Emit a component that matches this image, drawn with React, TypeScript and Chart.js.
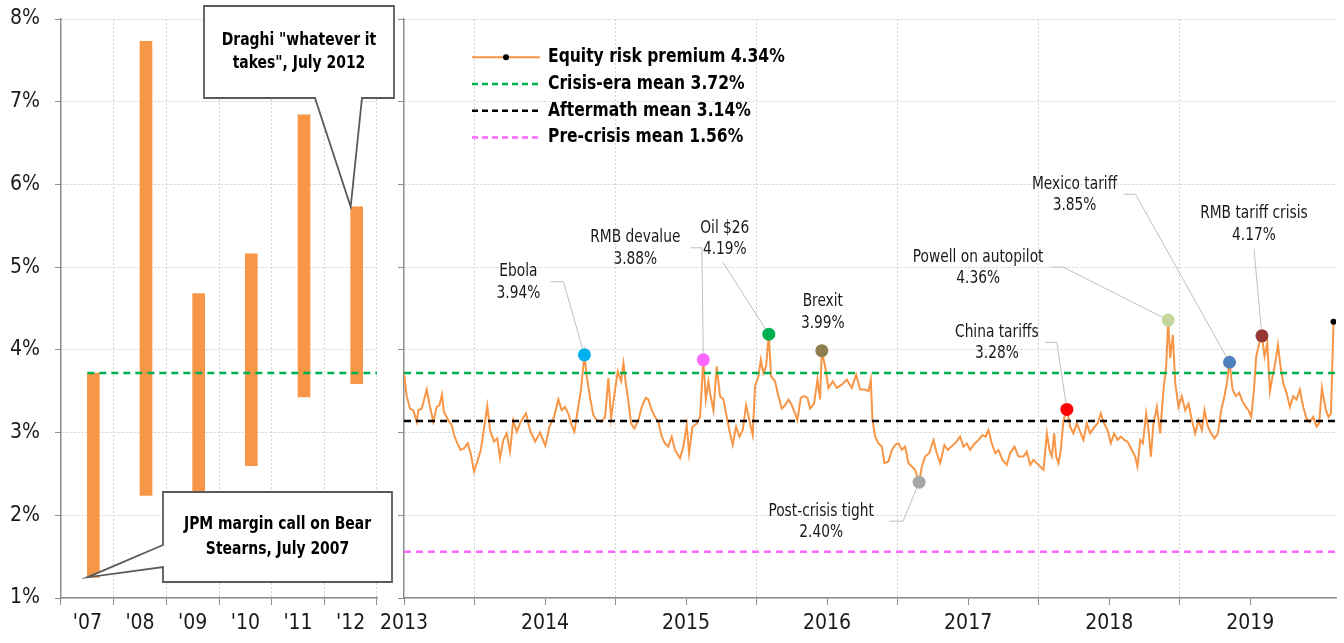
import React, { useEffect, useRef } from 'react';
import { Chart, registerables } from 'chart.js';

Chart.register(...registerables);

const FONT = '"DejaVu Sans Condensed", "Liberation Sans Narrow", "Arial Narrow", sans-serif';

// ---------- Left panel: crisis-era ranges ----------
const crisisYears = ["'07", "'08", "'09", "'10", "'11", "'12"];
const crisisLow = [1.25, 2.24, 2.2, 2.6, 3.43, 3.59];
const crisisHigh = [3.72, 7.73, 4.68, 5.16, 6.84, 5.73];

// ---------- Means ----------
const meanNames = ['Crisis-era mean', 'Aftermath mean', 'Pre-crisis mean'];
const meanValues = [3.72, 3.14, 1.56];
const meanColors = ['#00B050', '#000000', '#FF66FF'];

// ---------- Right panel: equity risk premium (months since Jan 2013) ----------
const startYear = 2013;
const erpName = 'Equity risk premium';
const erpLatest = 4.34;
const erpMonths = [
  0.0, 0.23, 0.51, 0.79, 1.08, 1.22, 1.51, 1.93, 2.21, 2.5, 2.78, 3.01, 3.23, 3.4, 3.77, 4.06, 4.26, 4.54, 4.82, 5.11,
  5.42, 5.67, 5.96, 6.24, 6.53, 6.81, 7.09, 7.32, 7.66, 7.94, 8.17, 8.45, 8.74, 9.02, 9.3, 9.59, 9.93, 10.38, 10.72, 11.15,
  11.57, 12.03, 12.37, 12.77, 13.13, 13.42, 13.7, 13.98, 14.27, 14.5, 14.78, 15.06, 15.35, 15.55, 15.83, 16.11, 16.4, 16.83, 17.11, 17.39,
  17.62, 17.96, 18.19, 18.47, 18.67, 18.87, 19.09, 19.32, 19.6, 19.94, 20.23, 20.57, 20.79, 21.08, 21.36, 21.64, 21.93, 22.21, 22.49, 22.78,
  23.06, 23.49, 23.77, 24.06, 24.26, 24.54, 24.91, 25.19, 25.47, 25.68, 25.9, 26.04, 26.33, 26.61, 26.89, 27.18, 27.46, 27.74, 27.97, 28.26,
  28.54, 28.82, 29.11, 29.39, 29.67, 29.87, 30.16, 30.36, 30.58, 30.81, 31.04, 31.23, 31.57, 31.86, 32.14, 32.43, 32.71, 33.0, 33.28, 33.47,
  33.76, 34.04, 34.33, 34.55, 34.89, 35.18, 35.4, 35.55, 35.83, 36.11, 36.48, 36.82, 37.25, 37.68, 38.1, 38.47, 38.81, 39.23, 39.52, 39.72,
  39.86, 40.09, 40.37, 40.66, 40.88, 41.22, 41.51, 41.79, 42.07, 42.36, 42.64, 42.92, 43.21, 43.49, 43.83, 44.06, 44.34, 44.68, 45.05, 45.33,
  45.62, 45.98, 46.27, 46.55, 46.89, 47.32, 47.6, 47.89, 48.17, 48.45, 48.88, 49.22, 49.5, 49.73, 50.01, 50.3, 50.58, 50.92, 51.29, 51.57,
  51.94, 52.28, 52.71, 52.99, 53.28, 53.56, 53.84, 54.13, 54.41, 54.7, 54.92, 55.12, 55.32, 55.49, 55.69, 55.89, 56.11, 56.4, 56.68, 56.96,
  57.25, 57.53, 57.81, 58.1, 58.38, 58.66, 59.01, 59.29, 59.57, 59.86, 60.14, 60.43, 60.71, 60.99, 61.28, 61.56, 61.93, 62.21, 62.41, 62.64,
  62.87, 63.15, 63.35, 63.55, 63.77, 64.06, 64.34, 64.62, 64.85, 65.02, 65.19, 65.42, 65.62, 65.9, 66.18, 66.47, 66.75, 67.04, 67.32, 67.6,
  67.89, 68.11, 68.4, 68.68, 68.96, 69.25, 69.53, 69.81, 70.02, 70.24, 70.5, 70.78, 71.06, 71.34, 71.63, 71.85, 72.09, 72.31, 72.51, 72.77,
  73.0, 73.22, 73.45, 73.68, 73.9, 74.13, 74.36, 74.58, 74.81, 75.09, 75.38, 75.66, 75.94, 76.23, 76.51, 76.79, 77.08, 77.36, 77.64, 77.87,
  78.1, 78.27, 78.44, 78.66, 78.87, 79.0, 79.09,
];
const erpValues = [
  3.72, 3.44, 3.29, 3.27, 3.13, 3.27, 3.29, 3.52, 3.31, 3.13, 3.31, 3.33, 3.46, 3.25, 3.15, 3.09, 2.97, 2.87, 2.79, 2.81,
  2.87, 2.75, 2.53, 2.65, 2.79, 3.05, 3.32, 3.03, 2.89, 2.93, 2.69, 2.91, 2.99, 2.77, 3.15, 3.01, 3.13, 3.23, 3.03, 2.89,
  3.0, 2.84, 3.07, 3.19, 3.4, 3.27, 3.31, 3.23, 3.09, 3.01, 3.27, 3.52, 3.94, 3.68, 3.42, 3.21, 3.15, 3.13, 3.19, 3.66,
  3.17, 3.52, 3.74, 3.62, 3.84, 3.6, 3.38, 3.11, 3.05, 3.15, 3.31, 3.42, 3.4, 3.27, 3.19, 3.13, 2.95, 2.87, 2.83, 2.95,
  2.79, 2.69, 2.83, 3.09, 2.75, 3.07, 3.11, 3.19, 3.88, 3.4, 3.62, 3.48, 3.27, 3.8, 3.44, 3.4, 3.19, 2.99, 2.85, 3.07,
  2.95, 3.03, 3.33, 3.15, 2.97, 3.56, 3.68, 3.88, 3.72, 3.8, 4.19, 3.68, 3.62, 3.44, 3.29, 3.33, 3.4, 3.33, 3.23, 3.15,
  3.42, 3.44, 3.42, 3.29, 3.35, 3.64, 3.4, 3.99, 3.8, 3.54, 3.62, 3.54, 3.58, 3.64, 3.54, 3.7, 3.52, 3.52, 3.5, 3.64,
  3.15, 2.95, 2.87, 2.83, 2.63, 2.65, 2.79, 2.85, 2.87, 2.79, 2.83, 2.63, 2.59, 2.55, 2.4, 2.59, 2.71, 2.75, 2.91, 2.75,
  2.63, 2.85, 2.79, 2.83, 2.87, 2.95, 2.83, 2.87, 2.79, 2.85, 2.91, 2.97, 2.95, 3.03, 2.87, 2.75, 2.79, 2.67, 2.61, 2.75,
  2.83, 2.71, 2.71, 2.77, 2.61, 2.67, 2.63, 2.59, 2.55, 2.99, 2.79, 2.71, 2.99, 2.71, 2.63, 2.79, 3.15, 3.28, 3.07, 2.99,
  3.11, 3.01, 2.91, 3.11, 2.99, 3.05, 3.11, 3.23, 3.11, 3.03, 2.87, 2.99, 2.91, 2.95, 2.91, 2.89, 2.79, 2.71, 2.59, 2.91,
  2.87, 3.23, 3.03, 2.71, 3.11, 3.31, 2.99, 3.52, 3.8, 4.36, 3.9, 4.18, 3.6, 3.31, 3.44, 3.27, 3.35, 3.15, 2.99, 3.15,
  3.03, 3.27, 3.07, 2.99, 2.93, 2.99, 3.27, 3.44, 3.6, 3.85, 3.52, 3.44, 3.48, 3.38, 3.31, 3.27, 3.19, 3.5, 3.92, 4.08,
  4.17, 3.92, 4.08, 3.5, 3.68, 3.84, 4.06, 3.8, 3.6, 3.48, 3.31, 3.44, 3.4, 3.52, 3.31, 3.17, 3.13, 3.19, 3.07, 3.11,
  3.54, 3.4, 3.27, 3.19, 3.23, 3.88, 4.34,
];
const xMaxMonths = 79.3;

// ---------- Events ----------
const eventNames = ['Ebola', 'RMB devalue', 'Oil $26', 'Brexit', 'Post-crisis tight', 'China tariffs', 'Powell on autopilot', 'Mexico tariff', 'RMB tariff crisis'];
const eventMonths = [15.35, 25.47, 31.04, 35.55, 43.83, 56.4, 65.02, 70.24, 73.0];
const eventValues = [3.94, 3.88, 4.19, 3.99, 2.4, 3.28, 4.36, 3.85, 4.17];
const eventColors = ['#00B0F0', '#FF66FF', '#00B050', '#8C7E4E', '#A6A6A6', '#FF0000', '#C3D69B', '#4F81BD', '#953735'];

// label layout, offsets in px relative to the marker
const eventLayout = [
  { dx: -66, dy: -83, leader: [[-34, -73], [-21, -73]] },
  { dx: -68, dy: -122, leader: [[-13, -112], [-1.5, -112]] },
  { dx: -44, dy: -106, leader: [[-46, -72]] },
  { dx: 1, dy: -49, leader: [] },
  { dx: -98, dy: 29, leader: [[-30, 39], [-16, 39]] },
  { dx: -70, dy: -77, leader: [[-22, -67], [-10, -67]] },
  { dx: -190, dy: -63, leader: [[-117, -53], [-105, -53]] },
  { dx: -155, dy: -178, leader: [[-106, -168], [-94, -168]] },
  { dx: -8, dy: -122, leader: [[-8, -87]] },
];

// ---------- Callouts (left panel) ----------
const callouts = [
  { lines: ['Draghi "whatever it', 'takes", July 2012'], bar: 5, end: 'high' },
  { lines: ['JPM margin call on Bear', 'Stearns, July 2007'], bar: 0, end: 'low' },
];
const calloutLayout = [
  { box: [204, 6, 394, 98], before: [[204, 6], [394, 6], [394, 98], [362, 98]], after: [[315, 98], [204, 98]], text: [40, 63] },
  { box: [163, 492, 392, 582], before: [[163, 492], [392, 492], [392, 582], [163, 582], [163, 567]], after: [[163, 545]], text: [524, 549] },
];

const ORANGE = '#F79646';
const AXIS = '#8C8C8C';
const GRID = '#D0D0D0';
const TEXT = '#1A1A1A';

Chart.defaults.font.family = FONT;
Chart.defaults.color = TEXT;

function squeezeText(ctx: CanvasRenderingContext2D, text: string, x: number, y: number, sx: number, align: CanvasTextAlign) {
  ctx.save();
  ctx.translate(x, y);
  ctx.scale(sx, 1);
  ctx.textAlign = align;
  ctx.textBaseline = 'middle';
  ctx.fillText(text, 0, 0);
  ctx.restore();
}

const noPadX = (h: number) => (s: any) => {
  s.height = h;
  s.paddingLeft = 0;
  s.paddingRight = 0;
};
const noPadY = (w: number) => (s: any) => {
  s.width = w;
  s.paddingTop = 0;
  s.paddingBottom = 0;
};

export default function App() {
  const leftRef = useRef<HTMLCanvasElement>(null);
  const rightRef = useRef<HTMLCanvasElement>(null);

  useEffect(() => {
    const calloutPlugin = {
      id: 'callouts',
      afterDraw(chart: any) {
        const ctx = chart.ctx;
        const xs = chart.scales.x;
        const ys = chart.scales.y;
        callouts.forEach((c, i) => {
          const lay = calloutLayout[i];
          const tipX = xs.getPixelForValue(c.bar);
          const tipY = ys.getPixelForValue(c.end === 'high' ? crisisHigh[c.bar] : crisisLow[c.bar]);
          const pts = [...lay.before, [tipX, tipY], ...lay.after];
          ctx.save();
          ctx.beginPath();
          pts.forEach((p, k) => (k === 0 ? ctx.moveTo(p[0], p[1]) : ctx.lineTo(p[0], p[1])));
          ctx.closePath();
          ctx.fillStyle = '#FFFFFF';
          ctx.fill();
          ctx.strokeStyle = '#5A5A5A';
          ctx.lineWidth = 1.8;
          ctx.stroke();
          ctx.fillStyle = '#000';
          ctx.font = `bold 18px ${FONT}`;
          const cx = (lay.box[0] + lay.box[2]) / 2;
          c.lines.forEach((t, k) => squeezeText(ctx, t, cx, lay.text[k], 0.86, 'center'));
          ctx.restore();
        });
      },
    };

    const annotPlugin = {
      id: 'annots',
      afterDraw(chart: any) {
        const ctx = chart.ctx;
        const xs = chart.scales.x;
        const ys = chart.scales.y;
        const area = chart.chartArea;
        ctx.save();
        eventNames.forEach((name, i) => {
          const mx = xs.getPixelForValue(eventMonths[i]);
          const my = ys.getPixelForValue(eventValues[i]);
          const lay = eventLayout[i];
          if (lay.leader.length) {
            const pts = lay.leader.map((p) => [mx + p[0], my + p[1]]);
            const last = pts[pts.length - 1];
            const ddx = mx - last[0];
            const ddy = my - last[1];
            const len = Math.hypot(ddx, ddy);
            const r = 6.5;
            pts.push([mx - (ddx / len) * r, my - (ddy / len) * r]);
            ctx.beginPath();
            pts.forEach((p, k) => (k === 0 ? ctx.moveTo(p[0], p[1]) : ctx.lineTo(p[0], p[1])));
            ctx.strokeStyle = '#BFBFBF';
            ctx.lineWidth = 1;
            ctx.setLineDash([]);
            ctx.stroke();
          }
          ctx.fillStyle = TEXT;
          ctx.font = `17px ${FONT}`;
          squeezeText(ctx, name, mx + lay.dx, my + lay.dy, 0.9, 'center');
          squeezeText(ctx, eventValues[i].toFixed(2) + '%', mx + lay.dx, my + lay.dy + 21.5, 0.9, 'center');
        });
        // legend
        const L = area.left;
        const rows = [
          { label: `${erpName} ${erpLatest.toFixed(2)}%`, color: ORANGE, dash: [] as number[], dot: true },
          ...meanNames.map((n, i) => ({ label: `${n} ${meanValues[i].toFixed(2)}%`, color: meanColors[i], dash: [6, 4], dot: false })),
        ];
        rows.forEach((r, i) => {
          const y = area.top + 38.3 + i * 26.7;
          ctx.beginPath();
          ctx.setLineDash(r.dash);
          ctx.strokeStyle = r.color;
          ctx.lineWidth = r.dot ? 2 : 2.5;
          ctx.moveTo(L + 68, y);
          ctx.lineTo(L + 136, y);
          ctx.stroke();
          ctx.setLineDash([]);
          if (r.dot) {
            ctx.beginPath();
            ctx.fillStyle = '#000';
            ctx.arc(L + 102, y, 3, 0, Math.PI * 2);
            ctx.fill();
          }
          ctx.fillStyle = '#000';
          ctx.font = `bold 19px ${FONT}`;
          squeezeText(ctx, r.label, L + 144, y, 0.91, 'left');
        });
        ctx.restore();
      },
    };

    const left = new Chart(leftRef.current as HTMLCanvasElement, {
      type: 'bar',
      data: {
        labels: crisisYears,
        datasets: [
          {
            type: 'line',
            xAxisID: 'x2',
            data: [
              { x: 0.5, y: meanValues[0] },
              { x: 6, y: meanValues[0] },
            ],
            borderColor: meanColors[0],
            borderWidth: 2.5,
            borderDash: [7, 5],
            pointRadius: 0,
            order: 0,
          } as any,
          {
            type: 'bar',
            data: crisisYears.map((_, i) => [crisisLow[i], crisisHigh[i]]),
            backgroundColor: ORANGE,
            borderWidth: 0,
            barThickness: 12,
            order: 1,
          } as any,
        ],
      },
      options: {
        responsive: false,
        animation: false,
        devicePixelRatio: 1,
        layout: { padding: { top: 19, right: 23, bottom: 0, left: 0 } },
        plugins: { legend: { display: false }, tooltip: { enabled: false } },
        scales: {
          x: {
            type: 'category',
            offset: true,
            grid: { offset: true, color: GRID, tickColor: AXIS, tickLength: 7, lineWidth: 1 },
            border: { color: AXIS, width: 1.5, dash: [2, 2] },
            ticks: { font: { size: 21 }, color: TEXT, padding: 6, maxRotation: 0 },
            afterFit: noPadX(45),
          },
          x2: { type: 'linear', display: false, offset: false, min: 0, max: 6, grid: { offset: false } },
          y: {
            min: 1,
            max: 8,
            ticks: { stepSize: 1, callback: (v: any) => `${v}%`, font: { size: 21 }, color: TEXT, padding: 15 },
            grid: { color: GRID, tickColor: AXIS, tickLength: 6 },
            border: { color: AXIS, width: 1.5, dash: [2, 2] },
            afterFit: noPadY(61),
          },
        },
      } as any,
      plugins: [calloutPlugin],
    });

    const right = new Chart(rightRef.current as HTMLCanvasElement, {
      type: 'line',
      data: {
        datasets: [
          {
            data: eventMonths.map((m, i) => ({ x: m, y: eventValues[i] })),
            showLine: false,
            pointRadius: 6.5,
            pointBackgroundColor: eventColors,
            pointBorderWidth: 0,
            order: 0,
          } as any,
          {
            data: [{ x: erpMonths[erpMonths.length - 1], y: erpLatest }],
            showLine: false,
            pointRadius: 3,
            pointBackgroundColor: '#000',
            pointBorderWidth: 0,
            order: 0,
          } as any,
          ...meanValues.map((v, i) => ({
            data: [
              { x: 0, y: v },
              { x: xMaxMonths, y: v },
            ],
            borderColor: meanColors[i],
            borderWidth: 2.5,
            borderDash: [7, 5],
            pointRadius: 0,
            order: 1,
          })),
          {
            data: erpMonths.map((m, i) => ({ x: m, y: erpValues[i] })),
            borderColor: ORANGE,
            borderWidth: 2,
            pointRadius: 0,
            tension: 0,
            order: 2,
          } as any,
        ],
      },
      options: {
        responsive: false,
        animation: false,
        devicePixelRatio: 1,
        layout: { padding: { top: 19, right: 8, bottom: 0, left: 0 } },
        plugins: { legend: { display: false }, tooltip: { enabled: false } },
        scales: {
          x: {
            type: 'linear',
            min: 0,
            max: xMaxMonths,
            afterBuildTicks: (s: any) => {
              s.ticks = s.ticks.filter((t: any) => Math.abs(t.value % 6) < 1e-6);
            },
            ticks: {
              stepSize: 6,
              autoSkip: false,
              maxRotation: 0,
              font: { size: 21 },
              color: TEXT,
              padding: 6,
              callback: (v: any) => (v % 12 === 0 ? String(startYear + v / 12) : ''),
            },
            grid: {
              color: (c: any) => (c.tick && c.tick.value % 12 === 6 ? GRID : 'rgba(0,0,0,0)'),
              tickColor: AXIS,
              tickLength: 7,
            },
            border: { color: AXIS, width: 1.5, dash: [2, 2] },
            afterFit: noPadX(45),
          },
          y: {
            min: 1,
            max: 8,
            ticks: { stepSize: 1, callback: () => '' },
            grid: { color: GRID, tickColor: AXIS, tickLength: 6 },
            border: { color: AXIS, width: 1.5, dash: [2, 2] },
            afterFit: noPadY(24),
          },
        },
      } as any,
      plugins: [annotPlugin],
    });

    return () => {
      left.destroy();
      right.destroy();
    };
  }, []);

  return (
    <div style={{ position: 'absolute', left: 0, top: 0, width: 1344, height: 643, background: '#fff', overflow: 'hidden' }}>
      <canvas ref={leftRef} width={400} height={643} style={{ position: 'absolute', left: 0, top: 0 }} />
      <canvas ref={rightRef} width={964} height={643} style={{ position: 'absolute', left: 380, top: 0 }} />
    </div>
  );
}
